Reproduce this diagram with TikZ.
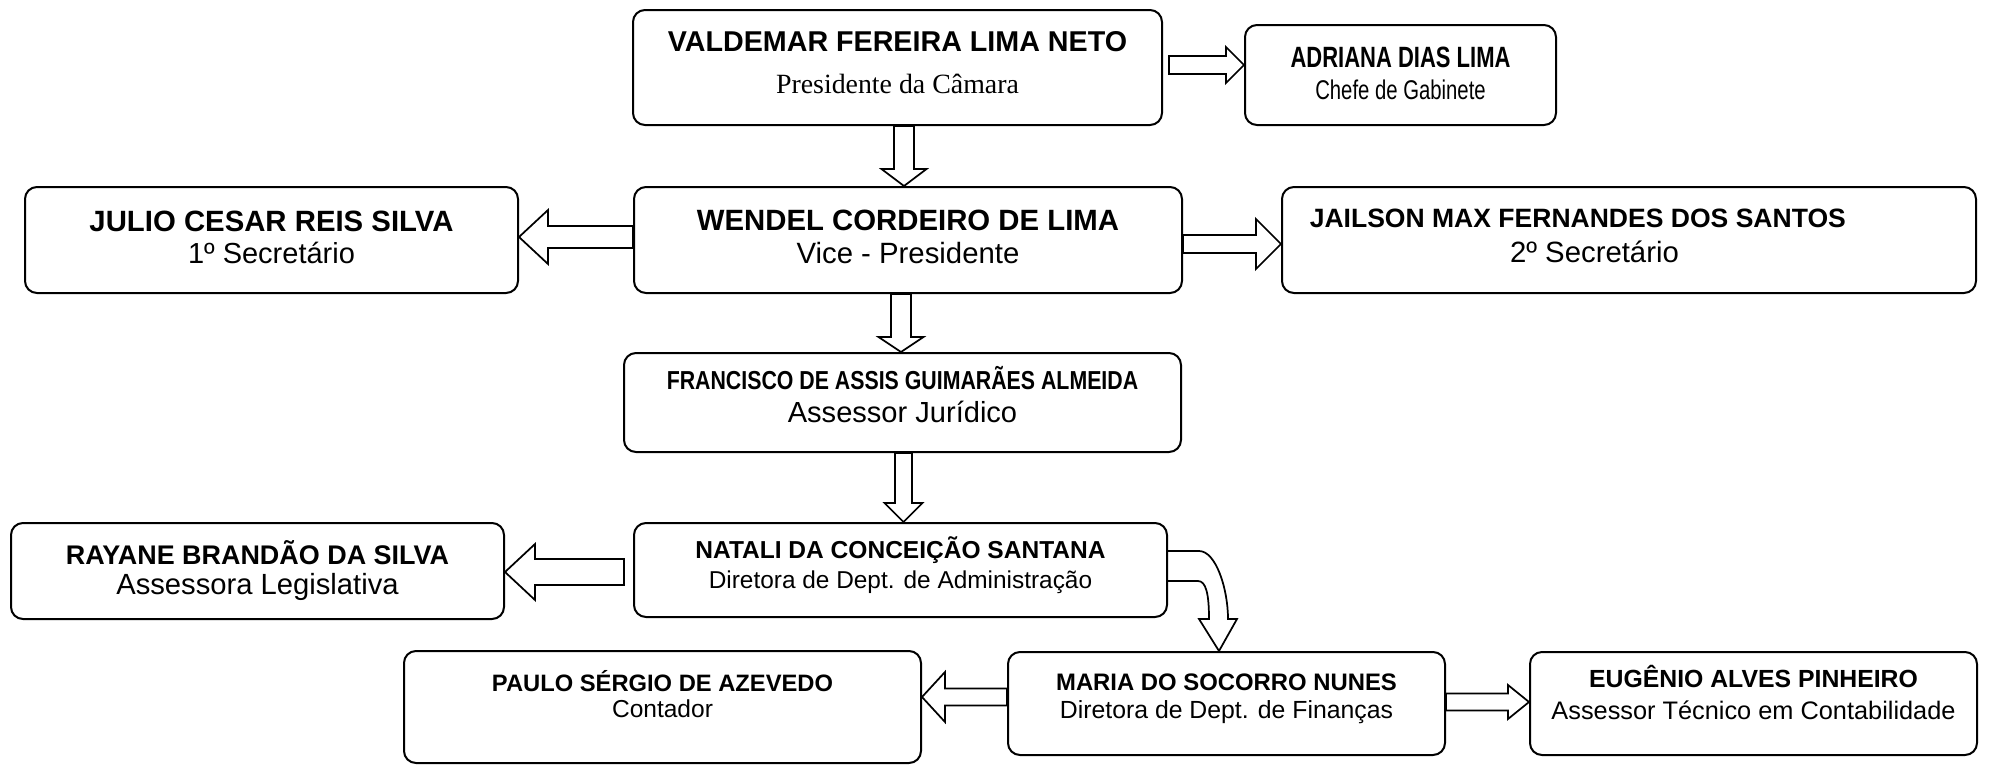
\documentclass[tikz,border=0pt]{standalone}
\usepackage{fontspec}
\setmainfont{Liberation Sans}
\newfontfamily\timesfont{Liberation Serif}
\newfontfamily\narrowfont[FakeStretch=0.82]{Liberation Sans}
\newfontfamily\narrowerfont[FakeStretch=0.75]{Liberation Sans}
\usetikzlibrary{calc}

\begin{document}
\begin{tikzpicture}[x=0.75pt,y=-0.75pt,
	box/.style={draw, line width=1.5pt, rounded corners=9pt, align=center, inner sep=0pt},
	sz/.style 2 args={minimum width=#1*0.75pt, minimum height=#2*0.75pt},
	arrowline/.style={line width=1.3pt, line join=miter},
	blockarrow/.style n args={3}{to path={let \p1=(\tikztostart), \p2=(\tikztotarget),
		\n1={atan2(\y2-\y1,\x2-\x1)}, \n2={veclen(\x2-\x1,\y2-\y1)}, \n3={\n2-#3*0.75} in
		[shift={(\p1)},rotate=\n1] (0pt,{#1*0.75pt}) -- ({\n3*1pt},{#1*0.75pt}) -- ({\n3*1pt},{#2*0.75pt})
		-- ({\n2*1pt},0pt) -- ({\n3*1pt},{-#2*0.75pt}) -- ({\n3*1pt},{-#1*0.75pt}) -- (0pt,{-#1*0.75pt}) -- cycle}}]
	\useasboundingbox (0,0) rectangle (1989,765);

	\node[box, sz={529}{115}, font=\fontsize{20.9}{31.5}\selectfont, text depth=7pt] (valdemar) at (897.5,67.5) {{\fontsize{21.5}{24}\selectfont\bfseries VALDEMAR FEREIRA LIMA NETO}\\{\timesfont Presidente da Câmara}};
	\node[box, sz={311}{100}, font=\narrowerfont\fontsize{20.3}{23.8}\selectfont, text depth=3pt] (adriana) at (1400.5,75) {{\fontsize{22}{24}\selectfont\bfseries ADRIANA DIAS LIMA}\\Chefe de Gabinete};
	\node[box, sz={493}{106}, font=\fontsize{21.75}{24}\selectfont, text depth=4.5pt] (julio) at (271.5,240) {{\fontsize{22}{24}\selectfont\bfseries JULIO CESAR REIS SILVA}\\1º Secretário};
	\node[box, sz={548}{106}, font=\fontsize{22}{24.75}\selectfont, text depth=4.5pt] (wendel) at (908,240) {{\bfseries WENDEL CORDEIRO DE LIMA}\\Vice - Presidente};
	\node[box, sz={694}{106}, font=\fontsize{22}{26.25}\selectfont, text depth=7pt] (jailson) at (1629,240) {{\fontsize{19.9}{24}\selectfont\bfseries JAILSON MAX FERNANDES DOS SANTOS}\hspace*{76.75pt}\\2º Secretário\hspace*{51.75pt}};
	\node[box, sz={557}{99}, font=\fontsize{21.8}{25}\selectfont, text depth=12pt] (francisco) at (902.5,402.5) {{\narrowfont\fontsize{19.5}{22}\selectfont\bfseries FRANCISCO DE ASSIS GUIMARÃES ALMEIDA}\\Assessor Jurídico};
	\node[box, sz={493}{96}, font=\fontsize{21.9}{22.5}\selectfont] (rayane) at (257.5,571) {{\fontsize{20.2}{22}\selectfont\bfseries RAYANE BRANDÃO DA SILVA}\\Assessora Legislativa};
	\node[box, sz={533}{94}, font=\fontsize{18.3}{22.5}\selectfont, text depth=11.5pt] (natali) at (900.5,570) {{\fontsize{18.4}{22}\selectfont\bfseries NATALI DA CONCEIÇÃO SANTANA}\\Diretora de Dept. de Administração};
	\node[box, sz={517}{112}, font=\fontsize{18.4}{19.5}\selectfont, text depth=19pt] (paulo) at (662.5,707) {{\fontsize{17.8}{19}\selectfont\bfseries PAULO SÉRGIO DE AZEVEDO}\\Contador};
	\node[box, sz={437}{103}, font=\fontsize{18.6}{21}\selectfont, text depth=11.5pt] (maria) at (1226.5,703.5) {{\fontsize{17.9}{21}\selectfont\bfseries MARIA DO SOCORRO NUNES}\\Diretora de Dept. de Finanças};
	\node[box, sz={447}{103}, font=\fontsize{19}{24}\selectfont, text depth=16pt] (eugenio) at (1753.5,703.5) {{\fontsize{18.6}{21}\selectfont\bfseries EUGÊNIO ALVES PINHEIRO}\\Assessor Técnico em Contabilidade};

	\draw[arrowline] ($(valdemar.east)+(6,-2.5)$) to[blockarrow={9}{18}{18}] ($(adriana.west)+(0,-10)$);
	\draw[arrowline] ($(valdemar.south)+(6.5,0)$) to[blockarrow={10}{22.5}{17}] ($(wendel.north)+(-4,0)$);
	\draw[arrowline] ($(wendel.west)+(0,-3)$) to[blockarrow={11}{27}{29}] ($(julio.east)+(0,-3)$);
	\draw[arrowline] ($(wendel.east)+(0,4)$) to[blockarrow={9}{25}{25}] ($(jailson.west)+(0,4)$);
	\draw[arrowline] ($(wendel.south)+(-7,0)$) to[blockarrow={10}{22.5}{15}] ($(francisco.north)+(-1.5,0)$);
	\draw[arrowline] ($(francisco.south)+(1,0)$) to[blockarrow={8.5}{19}{19}] ($(natali.north)+(3,0)$);
	\draw[arrowline] ($(natali.west)+(-9,2)$) to[blockarrow={13}{28}{30}] ($(rayane.east)+(0,1)$);
	\draw[arrowline] ($(natali.north east)+(0,29)$) -- ($(natali.north east)+(31,29)$)
		.. controls +(17,0) and +(0,-30) .. ($(maria.north)+(1.5,-32)$) -- ($(maria.north)+(10.5,-32)$)
		-- ($(maria.north)+(-7.5,0)$) -- ($(maria.north)+(-27.5,-32)$) -- ($(maria.north)+(-17.5,-32)$)
		.. controls +(0,-25) and +(8,0) .. ($(natali.north east)+(30,59)$) -- ($(natali.north east)+(0,59)$);
	\draw[arrowline] ($(maria.west)+(0,-6.5)$) to[blockarrow={8.5}{25}{23}] ($(paulo.east)+(0,-10)$);
	\draw[arrowline] ($(maria.east)+(0,-1.5)$) to[blockarrow={8.5}{17}{21}] ($(eugenio.west)+(0,-1.5)$);
\end{tikzpicture}
\end{document}
